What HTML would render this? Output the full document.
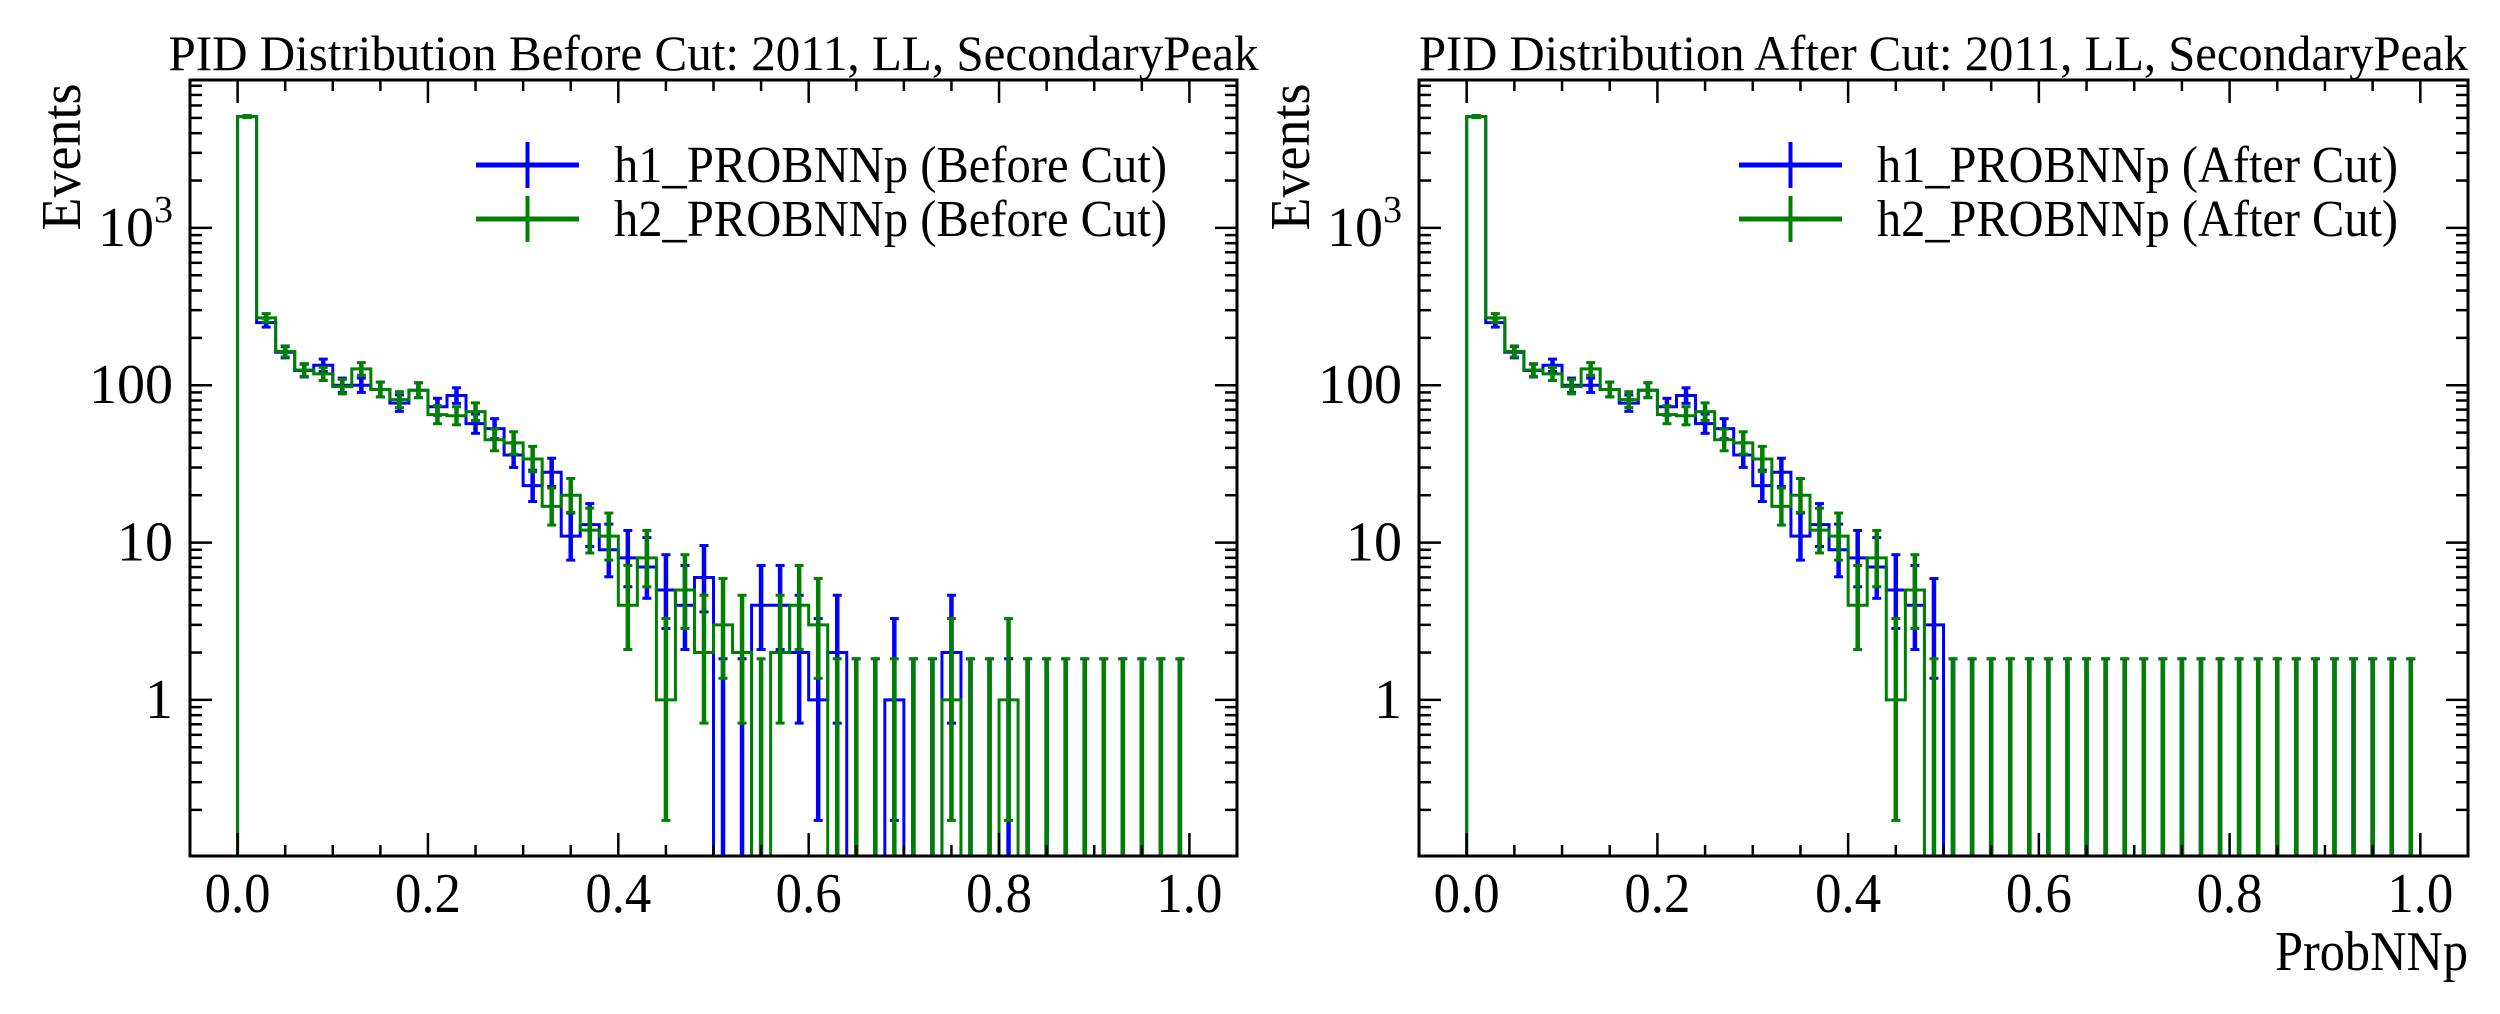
<!DOCTYPE html>
<html><head><meta charset="utf-8"><style>
html,body{margin:0;padding:0;background:#fff;}
svg{display:block;font-family:"Liberation Serif","DejaVu Serif",serif;}
</style></head>
<body>
<svg id="fig" width="2500" height="1014" viewBox="0 0 2500 1014" xmlns="http://www.w3.org/2000/svg">
<rect x="0" y="0" width="2500" height="1014" fill="#fff"/>
</svg>
<script>
const binEdgesStart = 0.0;
const binWidth = 0.02;
const h1Before = [5100,250,162,124,134,100,100,94,77,93,73,86,57,53,36,23,28,11,13,9,8,7,5,4,6,0,0,4,4,2,1,2,0,0,1,0,0,2,0,0,0,0,0,0,0,0,0,0,0,0];
const h2Before = [5100,268,164,125,118,98,127,94,81,93,65,64,68,45,43,34,17,20,12,11,4,8,1,5,2,3,2,0,2,4,3,0,0,0,0,0,0,1,0,0,1,0,0,0,0,0,0,0,0,0];
const h1After = [5100,250,162,124,134,100,100,94,77,93,73,86,57,53,36,23,28,11,13,9,8,7,5,4,3,0,0,0,0,0,0,0,0,0,0,0,0,0,0,0,0,0,0,0,0,0,0,0,0,0];
const h2After = [5100,268,164,125,118,98,127,94,81,93,65,64,68,45,43,34,17,20,12,11,4,8,1,5,0,0,0,0,0,0,0,0,0,0,0,0,0,0,0,0,0,0,0,0,0,0,0,0,0,0];
const xTicks = [0.0,0.2,0.4,0.6,0.8,1.0];
const xTickLabels = ["0.0","0.2","0.4","0.6","0.8","1.0"];
const yTicks = [1,10,100,1000];
const yTickLabels = ["1","10","100","10^3"];

const NS = "http://www.w3.org/2000/svg";
const svg = document.getElementById('fig');
function mk(tag, attrs, parent){const e=document.createElementNS(NS,tag);for(const k in attrs)e.setAttribute(k,attrs[k]);(parent||svg).appendChild(e);return e;}

const panels = [
  {left:190,right:1237,title:"PID Distribution Before Cut: 2011, LL, SecondaryPeak",titleLen:1090,h1:h1Before,h2:h2Before,l1:"h1_PROBNNp (Before Cut)",l2:"h2_PROBNNp (Before Cut)",legLen:553,xlabel:false,key:"before"},
  {left:1419,right:2468,title:"PID Distribution After Cut: 2011, LL, SecondaryPeak",titleLen:1049,h1:h1After,h2:h2After,l1:"h1_PROBNNp (After Cut)",l2:"h2_PROBNNp (After Cut)",legLen:521,xlabel:true,key:"after"}
];
const TOP=80, BOT=856, XMIN=-0.05, XMAX=1.05, LMIN=Math.log10(0.1)+0.008, LMAX=3.94;

function gLow(n){ if(n<=0) return 0; return n*Math.pow(1-1/(9*n)-1/(3*Math.sqrt(n)),3); }
function gUp(n){ const m=n+1; return m*Math.pow(1-1/(9*m)+1/(3*Math.sqrt(m)),3); }

panels.forEach((p,pi)=>{
  const xs = v => p.left + (v-XMIN)/(XMAX-XMIN)*(p.right-p.left);
  const ys = v => v<=0 ? BOT+20 : BOT - (Math.log10(v)-LMIN)/(LMAX-LMIN)*(BOT-TOP);
  const g = mk('g',{});
  
  
  const cid='clip'+pi;
  const cp=mk('clipPath',{id:cid},g); mk('rect',{x:p.left,y:TOP,width:p.right-p.left,height:BOT-TOP},cp);
  const plot=mk('g',{'clip-path':'url(#'+cid+')'},g);
  [[p.h1,'#0000ff','h1'],[p.h2,'#008000','h2']].forEach(([data,col,nm])=>{
    const sg=mk('g',{},plot);
    
    
    let d='M'+xs(binEdgesStart)+','+(BOT+20);
    data.forEach((v,i)=>{const x0=xs(binEdgesStart+i*binWidth),x1=xs(binEdgesStart+(i+1)*binWidth);d+=' L'+x0+','+ys(v)+' L'+x1+','+ys(v);});
    d+=' L'+xs(binEdgesStart+data.length*binWidth)+','+(BOT+20);
    const path=mk('path',{d:d,fill:'none',stroke:col,'stroke-width':3,'stroke-linejoin':'miter'},sg);
    
    
    data.forEach((v,i)=>{
      const xc=xs(binEdgesStart+(i+0.5)*binWidth);
      const lo=gLow(v), up=gUp(v);
      const yl=lo>0?ys(lo):BOT+20, yu=ys(up);
      const eb=mk('g',{},sg);
      
      
      mk('line',{x1:xc,x2:xc,y1:yl,y2:yu,stroke:col,'stroke-width':4.5},eb);
      mk('line',{x1:xc-4.5,x2:xc+4.5,y1:yu,y2:yu,stroke:col,'stroke-width':3},eb);
      if(lo>0) mk('line',{x1:xc-4.5,x2:xc+4.5,y1:yl,y2:yl,stroke:col,'stroke-width':3},eb);
    });
  });
  const fr=mk('rect',{x:p.left,y:TOP,width:p.right-p.left,height:BOT-TOP,fill:'none',stroke:'#000','stroke-width':3},g);
  
  
  for(let k=0;k<=20;k++){
    const v=k*0.05; const x=xs(v); const major=(k%4===0); const L=major?23:11;
    mk('line',{x1:x,x2:x,y1:BOT,y2:BOT-L,stroke:'#000','stroke-width':2.5},g);
    mk('line',{x1:x,x2:x,y1:TOP,y2:TOP+L,stroke:'#000','stroke-width':2.5},g);
  }
  xTicks.forEach((v,i)=>{
    const t=mk('text',{x:xs(v),y:912,'font-size':56,'text-anchor':'middle',textLength:66,lengthAdjust:'spacingAndGlyphs',fill:'#000'},g);
    t.textContent=xTickLabels[i];
    
    
  });
  for(let e=-1;e<=3;e++){
    for(let m=1;m<=9;m++){
      const v=m*Math.pow(10,e); const y=ys(v); if(y<TOP||y>BOT) continue;
      const L=(m===1)?22:12;
      mk('line',{x1:p.left,x2:p.left+L,y1:y,y2:y,stroke:'#000','stroke-width':2.5},g);
      mk('line',{x1:p.right,x2:p.right-L,y1:y,y2:y,stroke:'#000','stroke-width':2.5},g);
    }
  }
  yTicks.forEach((v,i)=>{
    const y=ys(v)+18; const lab=yTickLabels[i];
    const t=mk('text',{x:p.left-17,y:y,'font-size':56,'text-anchor':'end',fill:'#000'},g);
    if(lab.indexOf('^')>=0){
      const [b,s]=lab.split('^');
      const t1=mk('tspan',{},t); t1.textContent=b;
      const t2=mk('tspan',{'font-size':38,dy:-24},t); t2.textContent=s;
    } else t.textContent=lab;
    
    
  });
  const tt=mk('text',{x:(p.left+p.right)/2,y:70,'font-size':50,'text-anchor':'middle',textLength:p.titleLen,lengthAdjust:'spacingAndGlyphs',fill:'#000'},g);
  tt.textContent=p.title;
  
  
  const yl=p.left-128;
  const yt=mk('text',{x:0,y:0,'font-size':56,'text-anchor':'middle',textLength:147,lengthAdjust:'spacingAndGlyphs',transform:'translate('+(yl+18)+',157) rotate(-90)',fill:'#000'},g);
  yt.textContent='Events';
  
  
  const textX=p.right-70-p.legLen, mx0=textX-138, mx1=textX-35, mc=(mx0+mx1)/2;
  [[p.l1,'#0000ff',165],[p.l2,'#008000',219]].forEach(([lab,col,y],k)=>{
    const le=mk('g',{},g);
    
    
    mk('line',{x1:mx0,x2:mx1,y1:y,y2:y,stroke:col,'stroke-width':5},le);
    mk('line',{x1:mc,x2:mc,y1:y-23,y2:y+23,stroke:col,'stroke-width':4},le);
    const t=mk('text',{x:textX,y:y+17,'font-size':52,textLength:p.legLen,lengthAdjust:'spacingAndGlyphs',fill:'#000'},le);
    t.textContent=lab;
  });
  if(p.xlabel){
    const xt=mk('text',{x:p.right,y:970,'font-size':56,'text-anchor':'end',textLength:193,lengthAdjust:'spacingAndGlyphs',fill:'#000'},g);
    xt.textContent='ProbNNp';
    
    
  }
});
</script>
</body></html>
